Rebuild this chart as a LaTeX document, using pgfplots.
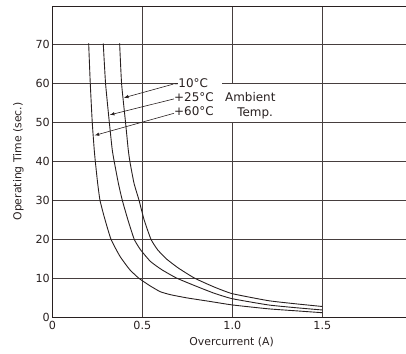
\documentclass[border=0pt]{standalone}
\usepackage{pgfplots}
\pgfplotsset{compat=1.18}
\usepackage{fontspec}
\setmainfont{DejaVu Sans}
\definecolor{ink}{RGB}{40,32,32}
\definecolor{gridc}{RGB}{70,62,62}
\begin{document}
\begin{tikzpicture}
\begin{axis}[
  scale only axis,
  width=353.7bp, height=311bp,
  xmin=0, xmax=1.965, ymin=0, ymax=80,
  axis line style={draw=none},
  xtick={0,0.5,1.0,1.5}, xticklabels={0,0.5,1.0,1.5},
  ytick={0,10,20,30,40,50,60,70},
  major tick length=0pt,
  grid=major,
  major grid style={gridc, line width=0.9pt},
  tick label style={font=\fontsize{11.2}{13}\selectfont, text=ink},
  /pgf/number format/assume math mode=true,
  xticklabel style={yshift=-0.5bp},
  yticklabel style={xshift=1bp},
  xlabel={Overcurrent (A)},
  ylabel={Operating Time (sec.)},
  label style={font=\fontsize{10.9}{13}\selectfont, text=ink},
  xlabel style={at={(axis description cs:0.507,-0.0794)}, anchor=center},
  ylabel style={at={(axis description cs:-0.0961,0.5)}, anchor=center},
  clip=false,
]
% frame: top, left, bottom
\draw[ink, line width=0.9pt] (rel axis cs:0,1) -- (rel axis cs:1,1);
\draw[ink, line width=0.9pt] (rel axis cs:0,0) -- (rel axis cs:0,1);
\draw[ink, line width=0.9pt] (rel axis cs:0,0) -- (rel axis cs:1,0);
% white patches behind annotation
\fill[white] (axis cs:0.94,50.15) rectangle (axis cs:1.245,59.85);
\fill[white] (axis cs:0.70,58.3) rectangle (axis cs:0.94,61.2);
% +60
\addplot[ink, line width=0.9pt, smooth, tension=0.3] coordinates {
(0.202,70.4)(0.211,60)(0.222,50)(0.233,43)(0.239,40)(0.252,34.4)(0.265,30)(0.29,25.5)(0.326,20)(0.376,15.6)(0.43,12.2)(0.48,10)(0.54,8.1)(0.60,6.5)(0.66,5.7)(0.75,4.9)(0.876,4.0)(1.0,3.1)(1.2,2.1)(1.35,1.6)(1.5,1.1)};
% +25
\addplot[ink, line width=0.9pt, smooth, tension=0.3] coordinates {
(0.283,70.4)(0.296,60)(0.317,50)(0.333,43)(0.344,40)(0.367,34.4)(0.389,30)(0.42,25)(0.455,20)(0.49,17.3)(0.545,14.3)(0.607,12.2)(0.691,10)(0.80,7.9)(0.9,6.1)(1.0,4.7)(1.2,3.1)(1.35,2.4)(1.5,1.8)};
% -10
\addplot[ink, line width=0.9pt, smooth, tension=0.3] coordinates {
(0.374,70.4)(0.385,60)(0.407,50)(0.422,43)(0.431,40)(0.454,34.4)(0.482,30)(0.51,25)(0.548,20)(0.585,17.3)(0.635,14.9)(0.70,12.6)(0.79,10)(0.90,7.7)(1.0,6.0)(1.2,4.2)(1.35,3.4)(1.5,2.7)};
% arrows
\draw[ink, line width=0.6pt, -latex] (axis cs:0.672,59.9) -- (axis cs:0.398,56.4);
\draw[ink, line width=0.6pt, -latex] (axis cs:0.676,56.1) -- (axis cs:0.32,52.0);
\draw[ink, line width=0.6pt, -latex] (axis cs:0.676,52.4) -- (axis cs:0.235,46.7);
\begin{scope}[every node/.style={font=\fontsize{12}{14}\selectfont, text=ink, inner sep=0pt, anchor=west}]
\node at (axis cs:0.676,60.2) {-10°C};
\node at (axis cs:0.676,56.5) {+25°C};
\node at (axis cs:0.676,52.9) {+60°C};
\node at (axis cs:0.959,56.5) {Ambient};
\node at (axis cs:1.027,52.3) {Temp.};
\end{scope}
\coordinate (bl) at (rel axis cs:0,0);
\coordinate (tr) at (rel axis cs:1,1);
\end{axis}
\pgfresetboundingbox
\path ([shift={(-52.3bp,-37bp)}]bl) rectangle ([shift={(0bp,6bp)}]tr);
\end{tikzpicture}
\end{document}
